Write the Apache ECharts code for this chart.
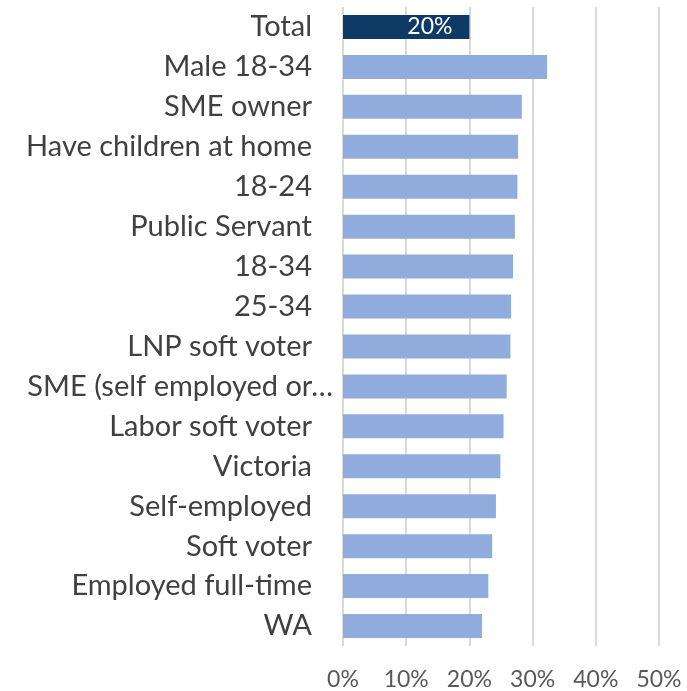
<!DOCTYPE html>
<html>
<head>
<meta charset="utf-8">
<script src="https://cdn.jsdelivr.net/npm/echarts@6/dist/echarts.min.js"></script>
<style>html,body{margin:0;padding:0;background:#fff}#c{width:687px;height:691px}</style>
</head>
<body>
<div id="c"></div>
<script>
const categories = ["Total","Male 18-34","SME owner","Have children at home","18-24","Public Servant","18-34","25-34","LNP soft voter","SME (self employed or…","Labor soft voter","Victoria","Self-employed","Soft voter","Employed full-time","WA"];
const values = [20.0,32.3,28.3,27.7,27.6,27.2,26.9,26.6,26.5,25.9,25.4,24.9,24.2,23.6,23.0,22.0];
const xTicks = [0,10,20,30,40,50];

const chart = echarts.init(document.getElementById('c'));
chart.setOption({
  animation:false,
  grid:{left:343,right:28,top:7,bottom:44,containLabel:false},
  xAxis:{type:'value',min:0,max:50,interval:10,
    axisLine:{show:false},axisTick:{show:false},
    splitLine:{lineStyle:{color:'#d9d9d9',width:2}},
    axisLabel:{formatter:v=>v+'%',fontFamily:'Lato',fontSize:23,color:'#595959',margin:22}},
  yAxis:{type:'category',inverse:true,
    data:categories.map(c=>c.endsWith('…')?{value:c,textStyle:{padding:[0,-21,0,0]}}:c),
    axisLine:{show:false},axisTick:{show:false},
    axisLabel:{fontFamily:'Lato',fontSize:29,color:'#404040',margin:31}},
  series:[{type:'bar',barCategoryGap:'40%',
    data:values.map((v,i)=>i===0?{value:v,itemStyle:{color:'#0E3A66'},
      label:{show:true,position:'insideRight',distance:17,formatter:p=>Math.round(p.value)+'%',color:'#fff',fontFamily:'Lato',fontSize:23}}:v),
    itemStyle:{color:'#8FACDD'}}]
});
</script>
</body>
</html>
